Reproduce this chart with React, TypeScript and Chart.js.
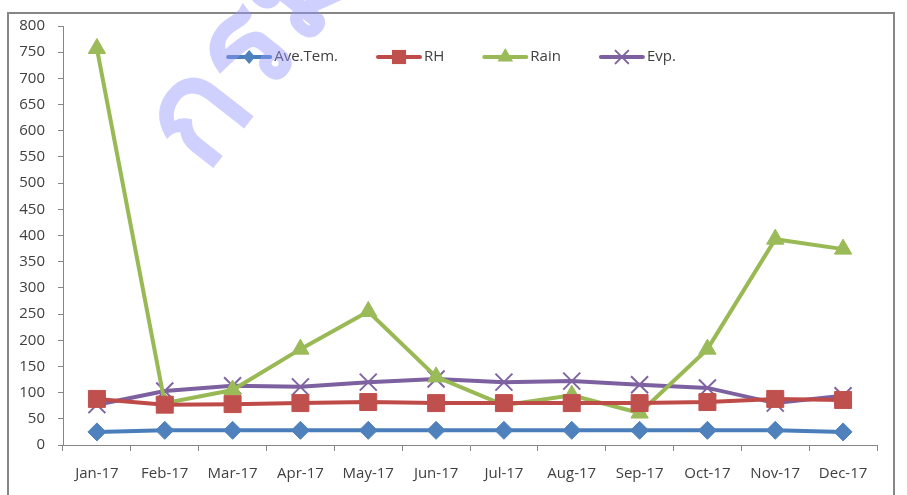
import React, { useEffect, useRef } from "react";
import { Chart, registerables } from "chart.js";

Chart.register(...registerables);

const months = ["Jan-17", "Feb-17", "Mar-17", "Apr-17", "May-17", "Jun-17", "Jul-17", "Aug-17", "Sep-17", "Oct-17", "Nov-17", "Dec-17"];
const aveTem = [25, 28, 28, 28, 28, 28, 28, 28, 28, 28, 28, 25];
const rh = [88, 77, 78, 80, 82, 80, 80, 80, 80, 82, 88, 86];
const rain = [757, 80, 105, 183, 255, 130, 76, 95, 61, 183, 393, 374];
const evp = [77, 103, 113, 111, 120, 126, 120, 122, 115, 109, 80, 94];

const FONT = "'Open Sans', 'Liberation Sans', sans-serif";
const TEXT = "#404040";
const AXIS = "#868686";

type SeriesDef = { label: string; data: number[]; color: string; marker: string; style: string; radius: number; legendR: number };
const series: SeriesDef[] = [
  { label: "Ave.Tem.", data: aveTem, color: "#4A7EBB", marker: "#4F81BD", style: "rectRot", radius: 9, legendR: 7 },
  { label: "RH", data: rh, color: "#BE4B48", marker: "#C0504D", style: "rect", radius: 12, legendR: 10 },
  { label: "Rain", data: rain, color: "#98B954", marker: "#9BBB59", style: "triangle", radius: 10, legendR: 9 },
  { label: "Evp.", data: evp, color: "#7D60A0", marker: "#8064A2", style: "crossRot", radius: 12, legendR: 9 },
];

function drawMarker(ctx: CanvasRenderingContext2D, style: string, x: number, y: number, r: number, color: string) {
  ctx.save();
  ctx.fillStyle = color;
  ctx.strokeStyle = color;
  ctx.beginPath();
  if (style === "rectRot") {
    ctx.moveTo(x, y - r);
    ctx.lineTo(x + r * 0.85, y);
    ctx.lineTo(x, y + r);
    ctx.lineTo(x - r * 0.85, y);
    ctx.closePath();
    ctx.fill();
  } else if (style === "rect") {
    const s = r * Math.SQRT1_2;
    ctx.rect(x - s, y - s, 2 * s, 2 * s);
    ctx.fill();
  } else if (style === "triangle") {
    ctx.moveTo(x, y - r);
    ctx.lineTo(x + r * 0.866, y + r * 0.5);
    ctx.lineTo(x - r * 0.866, y + r * 0.5);
    ctx.closePath();
    ctx.fill();
  } else {
    const d = r * Math.SQRT1_2;
    ctx.lineWidth = 2;
    ctx.moveTo(x - d, y - d);
    ctx.lineTo(x + d, y + d);
    ctx.moveTo(x + d, y - d);
    ctx.lineTo(x - d, y + d);
    ctx.stroke();
  }
  ctx.restore();
}

const framePlugin = {
  id: "frame",
  beforeDraw(chart: any) {
    const ctx = chart.ctx as CanvasRenderingContext2D;
    ctx.save();
    ctx.fillStyle = "#ffffff";
    ctx.fillRect(0, 0, chart.width, chart.height);
    ctx.strokeStyle = AXIS;
    ctx.lineWidth = 2;
    ctx.strokeRect(8, 13, 886, 520);
    ctx.restore();
  },
  afterDraw(chart: any) {
    const ctx = chart.ctx as CanvasRenderingContext2D;
    ctx.save();
    ctx.font = `15px ${FONT}`;
    ctx.textBaseline = "middle";
    const lineW = 46;
    const gap = 2;
    const spacing = 38;
    const widths = series.map((s) => lineW + gap + ctx.measureText(s.label).width);
    const total = widths.reduce((a, b) => a + b, 0) + spacing * (series.length - 1);
    let x = 451 - total / 2;
    const y = 57;
    series.forEach((s, i) => {
      ctx.strokeStyle = s.color;
      ctx.lineWidth = 4;
      ctx.lineCap = "round";
      ctx.beginPath();
      ctx.moveTo(x + 2, y);
      ctx.lineTo(x + lineW - 2, y);
      ctx.stroke();
      drawMarker(ctx, s.style, x + lineW / 2, y, s.legendR, s.marker);
      ctx.fillStyle = TEXT;
      ctx.textAlign = "left";
      ctx.fillText(s.label, x + lineW + gap, y);
      x += widths[i] + spacing;
    });
    // watermark
    ctx.translate(205, 175);
    ctx.rotate(-52 * Math.PI / 180);
    ctx.font = `bold 140px 'Noto Sans', 'DejaVu Sans', sans-serif`;
    ctx.fillStyle = "rgba(150,150,255,0.45)";
    ctx.textAlign = "left";
    ctx.textBaseline = "alphabetic";
    ctx.fillText("กรมส", 0, 0);
    ctx.restore();
  },
};

export default function App() {
  const ref = useRef<HTMLCanvasElement | null>(null);
  useEffect(() => {
    if (!ref.current) return;
    const chart = new Chart(ref.current, {
      type: "line",
      data: {
        labels: months,
        datasets: series.map((s) => ({
          label: s.label,
          data: s.data,
          borderColor: s.color,
          backgroundColor: s.marker,
          borderWidth: 4,
          pointStyle: s.style as any,
          pointRadius: s.radius,
          pointBorderColor: s.marker,
          pointBackgroundColor: s.marker,
          pointBorderWidth: s.style === "crossRot" ? 2 : 1,
          tension: 0,
          fill: false,
        })),
      },
      options: {
        animation: false,
        responsive: false,
        devicePixelRatio: 1,
        layout: { padding: { left: 10, top: 26, right: 30, bottom: 0 } },
        plugins: { legend: { display: false }, tooltip: { enabled: false } },
        scales: {
          x: {
            offset: true,
            grid: { display: true, drawOnChartArea: false, offset: true, tickLength: 6, color: AXIS },
            border: { display: true, color: AXIS, width: 1 },
            ticks: { color: TEXT, font: { family: FONT, size: 15 }, padding: 14, maxRotation: 0, autoSkip: false },
            afterFit: (s: any) => { s.height = 50; },
          },
          y: {
            min: 0,
            max: 800,
            grid: { display: true, drawOnChartArea: false, tickLength: 5, color: AXIS },
            border: { display: true, color: AXIS, width: 1 },
            ticks: { stepSize: 50, color: TEXT, font: { family: FONT, size: 15 }, padding: 13 },
            afterFit: (s: any) => { s.width = 53; },
          },
        },
      },
      plugins: [framePlugin],
    });
    return () => chart.destroy();
  }, []);
  return (
    <div style={{ position: "absolute", left: 0, top: 0, width: 907, height: 495, overflow: "hidden" }}>
      <canvas ref={ref} width={907} height={495} style={{ display: "block", width: 907, height: 495 }} />
    </div>
  );
}
